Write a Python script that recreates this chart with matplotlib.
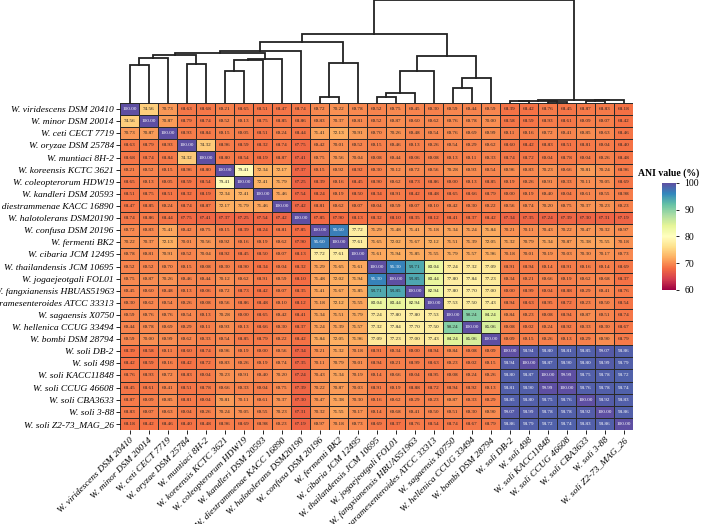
import numpy as np
import matplotlib.pyplot as plt

# ----------------------------
# Data
# ----------------------------
strains = [
    "W. viridescens DSM 20410", "W. minor DSM 20014", "W. ceti CECT 7719",
    "W. oryzae DSM 25784", "W. muntiaci 8H-2", "W. koreensis KCTC 3621",
    "W. coleopterorum HDW19", "W. kandleri DSM 20593", "W. diestrammenae KACC 16890",
    "W. halotolerans DSM20190", "W. confusa DSM 20196", "W. fermenti BK2",
    "W. cibaria JCM 12495", "W. thailandensis JCM 10695", "W. jogaejeotgali FOL01",
    "W. fangxianensis HBUAS51963", "W. paramesenteroides ATCC 33313", "W. sagaensis X0750",
    "W. hellenica CCUG 33494", "W. bombi DSM 28794", "W. soli DB-2", "W. soli 498",
    "W. soli KACC11848", "W. soli CCUG 46608", "W. soli CBA3633", "W. soli 3-88",
    "W. soli Z2-73_MAG_26",
]

# upper triangle of the ANI matrix, row i holds columns i..26
ani_upper = [
    [100.00, 74.56, 70.73, 68.63, 68.68, 69.21, 68.65, 68.51, 68.47, 68.74, 69.72, 70.22, 69.78, 69.52, 69.75, 69.45, 69.30, 69.59, 69.44, 69.59, 68.39, 68.42, 68.76, 68.45, 68.87, 68.83, 68.18],
    [100.00, 70.87, 68.79, 68.74, 69.52, 69.13, 68.75, 68.85, 68.86, 69.83, 70.37, 69.81, 69.52, 69.87, 69.60, 69.62, 69.76, 69.78, 70.00, 68.58, 68.59, 68.93, 68.61, 69.09, 69.07, 68.42],
    [100.00, 68.93, 68.84, 69.15, 69.05, 68.51, 69.24, 68.44, 71.41, 72.13, 70.91, 69.70, 70.26, 69.48, 69.54, 69.76, 69.69, 69.99, 69.11, 69.16, 69.72, 69.41, 69.85, 69.63, 68.46],
    [100.00, 74.32, 68.96, 68.59, 68.32, 68.74, 67.75, 69.42, 70.01, 69.52, 69.15, 69.46, 69.13, 69.26, 69.54, 69.29, 69.62, 68.60, 68.42, 68.83, 68.51, 68.81, 69.04, 68.40],
    [100.00, 68.80, 68.54, 68.19, 68.87, 67.41, 69.75, 70.56, 70.04, 69.08, 69.44, 69.06, 69.08, 69.13, 69.11, 69.33, 68.74, 68.72, 69.04, 68.78, 69.04, 69.26, 68.48],
    [100.00, 79.41, 72.34, 72.17, 67.37, 69.15, 69.92, 68.92, 69.30, 70.12, 69.72, 69.56, 70.28, 69.93, 69.54, 69.96, 69.83, 70.23, 69.66, 70.81, 70.24, 68.96],
    [100.00, 72.41, 71.79, 67.25, 68.39, 69.16, 68.45, 68.90, 69.62, 68.73, 68.86, 69.00, 69.13, 68.85, 69.19, 69.26, 69.91, 69.33, 70.11, 70.05, 68.69],
    [100.00, 71.46, 67.54, 68.24, 69.19, 68.50, 68.34, 68.91, 68.42, 68.48, 68.65, 68.66, 68.79, 69.00, 69.19, 69.40, 69.04, 69.61, 69.55, 68.98],
    [100.00, 67.42, 68.81, 69.62, 69.07, 69.04, 69.59, 69.07, 69.10, 69.42, 69.30, 69.22, 69.56, 69.74, 70.20, 69.75, 70.37, 70.23, 69.23],
    [100.00, 67.85, 67.90, 68.13, 68.32, 68.10, 68.35, 68.12, 68.41, 68.37, 68.42, 67.34, 67.35, 67.24, 67.39, 67.30, 67.31, 67.19],
    [100.00, 96.60, 77.72, 71.29, 71.48, 71.41, 71.18, 71.34, 71.24, 71.84, 70.21, 70.11, 70.43, 70.22, 70.47, 70.32, 69.97],
    [100.00, 77.61, 71.65, 72.02, 71.67, 72.12, 71.51, 71.39, 72.05, 71.32, 70.79, 71.34, 70.87, 71.38, 71.55, 70.18],
    [100.00, 71.61, 71.94, 71.85, 71.55, 71.79, 71.57, 71.96, 70.18, 70.01, 70.19, 70.03, 70.30, 70.17, 69.73],
    [100.00, 96.30, 93.71, 83.04, 77.24, 77.32, 77.09, 68.91, 68.94, 69.14, 68.91, 69.16, 69.14, 68.69],
    [100.00, 93.85, 83.44, 77.80, 77.84, 77.23, 69.34, 69.21, 69.66, 69.19, 69.62, 69.68, 68.37],
    [100.00, 82.94, 77.80, 77.70, 77.00, 69.00, 68.99, 69.04, 68.88, 69.29, 69.41, 68.76],
    [100.00, 77.53, 77.50, 77.43, 68.94, 68.63, 68.95, 68.72, 69.23, 69.50, 68.54],
    [100.00, 90.24, 84.24, 69.84, 69.23, 69.08, 68.94, 69.87, 69.51, 68.74],
    [100.00, 85.06, 69.08, 69.02, 69.24, 68.92, 69.33, 69.30, 68.67],
    [100.00, 69.09, 69.15, 69.26, 69.13, 69.29, 69.90, 68.79],
    [100.00, 98.94, 98.80, 98.81, 98.85, 99.07, 98.86],
    [100.00, 98.87, 98.90, 98.80, 98.99, 98.79],
    [100.00, 99.99, 98.75, 98.78, 98.72],
    [100.00, 98.76, 98.78, 98.74],
    [100.00, 98.92, 98.83],
    [100.00, 98.86],
    [100.00],
]

# dendrogram merges (left, right, height); new clusters get ids 27, 28, ...
merges = [
    (0, 1, 115), (27, 2, 134), (3, 4, 117), (28, 29, 145),
    (5, 6, 95), (31, 7, 129), (32, 8, 132), (30, 33, 150), (34, 9, 158),
    (10, 11, 17), (36, 12, 120), (35, 37, 185),
    (13, 14, 17), (39, 15, 29), (40, 16, 95), (17, 18, 45), (42, 19, 74),
    (41, 43, 140), (38, 44, 207),
    (22, 23, 2), (20, 21, 5), (47, 46, 7), (24, 25, 5), (49, 26, 8), (48, 50, 10),
    (45, 51, 310),
]

n = len(strains)
ani = np.zeros((n, n))
for i, row in enumerate(ani_upper):
    ani[i, i:] = row
    ani[i:, i] = row

plt.rcParams['font.family'] = ['Liberation Serif', 'DejaVu Serif']

fig = plt.figure(figsize=(7.08, 5.24), dpi=100)
ax = fig.add_axes([0.1695, 0.1794, 0.7246, 0.624])
dax = fig.add_axes([0.1695, 0.8034, 0.7246, 0.1966])
cax = fig.add_axes([0.935, 0.447, 0.02, 0.204])

# ----------------------------
# Heatmap
mesh = ax.pcolormesh(np.arange(n + 1), np.arange(n + 1), ani, cmap='Spectral',
                     vmin=60, vmax=100, edgecolors='#2a2a2a', linewidth=0.5)
ax.set_xlim(0, n)
ax.set_ylim(n, 0)
for i in range(n):
    for j in range(n):
        v = ani[i, j]
        ax.text(j + 0.5, i + 0.5, f"{v:.2f}", ha='center', va='center',
                fontsize=3.7, color='white' if v > 95 else '#222222')
ax.set_xticks(np.arange(n) + 0.5)
ax.set_yticks(np.arange(n) + 0.5)
ax.set_xticklabels(strains, rotation=45, ha='right', rotation_mode='anchor',
                   fontsize=6.8, style='italic')
ax.set_yticklabels(strains, fontsize=6.8, style='italic')
ax.tick_params(length=3, width=0.6, pad=1.5)
for s in ax.spines.values():
    s.set_visible(False)

# ----------------------------
# Dendrogram
pos = {i: (i + 0.5, 0.0) for i in range(n)}
for k, (a, b, h) in enumerate(merges):
    xa, ha = pos[a]
    xb, hb = pos[b]
    dax.plot([xa, xa, xb, xb], [ha, h, h, hb], color='#222222', lw=1.3,
             solid_joinstyle='miter', clip_on=False)
    pos[n + k] = ((xa + xb) / 2, h)
dax.set_xlim(0, n)
dax.set_ylim(0, 310)
dax.axis('off')

# ----------------------------
# Colorbar
cb = fig.colorbar(mesh, cax=cax, ticks=[60, 70, 80, 90, 100])
cb.outline.set_visible(False)
cb.ax.tick_params(labelsize=7, length=2.5, width=0.6)
cax.set_title('ANI value (%)', fontsize=7, fontweight='bold', pad=5)

fig.savefig('out.png', dpi=100)
